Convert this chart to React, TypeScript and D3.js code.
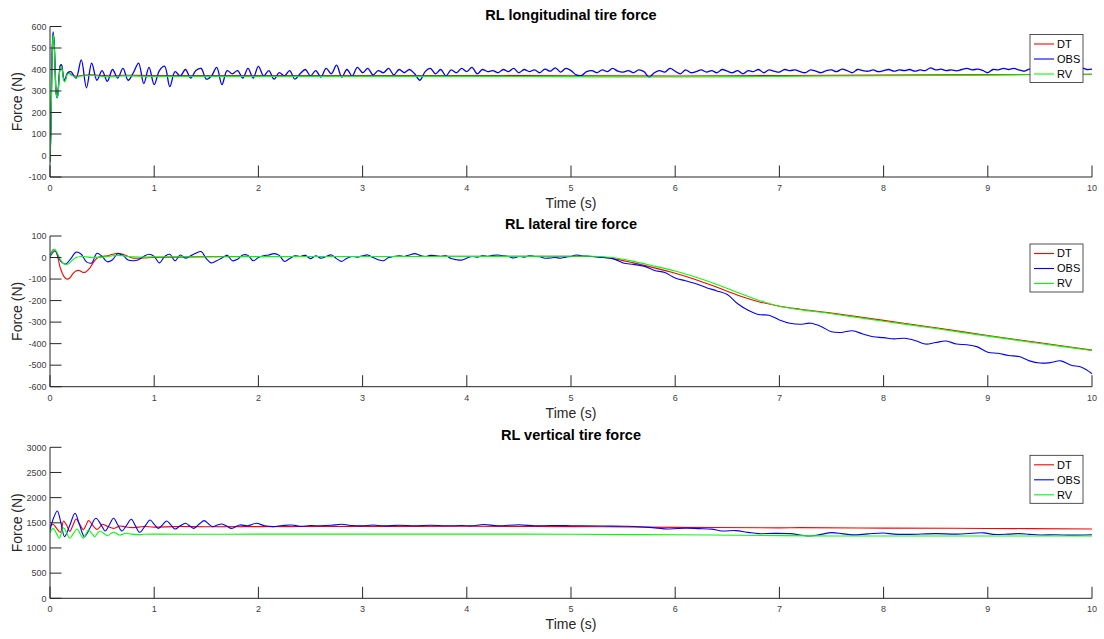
import React from "react";
import * as d3 from "d3";

// ---------- DATA ----------
const timeTicks = [0, 1, 2, 3, 4, 5, 6, 7, 8, 9, 10];
const longForceTicks = [-100, 0, 100, 200, 300, 400, 500, 600];
const latForceTicks = [-600, -500, -400, -300, -200, -100, 0, 100];
const vertForceTicks = [0, 500, 1000, 1500, 2000, 2500, 3000];
const seriesNames = ["DT", "OBS", "RV"];
const panelTitles = ["RL longitudinal tire force", "RL lateral tire force", "RL vertical tire force"];

// Longitudinal
const longDT: [number, number][] = [
  [0, -30], [0.01, 150], [0.02, 450], [0.03, 570], [0.04, 520], [0.05, 390], [0.06, 290], [0.07, 272],
  [0.08, 310], [0.09, 380], [0.1, 415], [0.11, 420], [0.12, 395], [0.13, 360], [0.14, 345], [0.15, 355],
  [0.16, 375], [0.18, 385], [0.2, 378], [0.25, 368], [0.3, 372], [0.4, 375], [0.5, 372], [0.6, 370],
  [0.7, 373], [1, 372], [2, 372], [3, 372], [4, 372], [5, 371], [6, 370], [7, 372], [8, 374], [9, 376], [10, 378],
];
const longRV: [number, number][] = [
  [0, -30], [0.01, 140], [0.02, 440], [0.03, 565], [0.04, 515], [0.05, 385], [0.06, 285], [0.07, 270],
  [0.08, 305], [0.09, 375], [0.1, 410], [0.11, 415], [0.12, 390], [0.13, 355], [0.14, 342], [0.15, 352],
  [0.16, 372], [0.18, 382], [0.2, 375], [0.25, 365], [0.3, 370], [0.4, 372], [0.5, 368], [0.6, 367],
  [0.7, 370], [1, 368], [2, 368], [3, 368], [4, 368], [5, 367], [5.5, 365], [6, 365], [7, 368], [8, 371],
  [9, 374], [10, 378],
];
const longObsStart: [number, number][] = [
  [0, -30], [0.01, 160], [0.02, 470], [0.03, 575], [0.04, 525], [0.05, 390], [0.06, 285], [0.07, 268],
  [0.08, 315], [0.09, 385], [0.1, 420], [0.11, 422], [0.12, 395], [0.13, 360], [0.14, 348], [0.15, 360],
  [0.17, 385],
];
// OBS from 0.2 s onward, every 0.05 s
const longObsSteady = [
  390, 360, 445, 315, 430, 350, 395, 345, 400, 360, 405, 350, 385, 430, 335, 410, 330, 395, 415, 320,
  390, 370, 400, 360, 395, 405, 355, 370, 410, 330, 395, 380, 395, 360, 405, 360, 415, 370, 395, 355,
  385, 370, 395, 355, 380, 400, 370, 395, 365, 405, 380, 420, 365, 400, 370, 410, 385, 405, 375, 395,
  385, 405, 375, 400, 385, 400, 380, 350, 390, 405, 380, 400, 370, 398, 385, 405, 390, 410, 380, 400,
  390, 395, 385, 400, 390, 405, 385, 400, 390, 398, 385, 402, 392, 408, 388, 405, 395, 375, 372, 390,
  395, 385, 398, 390, 405, 392, 388, 395, 385, 398, 390, 365, 385, 395, 388, 405, 392, 380, 398, 385,
  390, 398, 388, 395, 385, 400, 392, 385, 395, 380, 395, 390, 400, 385, 398, 392, 388, 400, 395, 398,
  390, 385, 398, 392, 385, 395, 398, 390, 402, 395, 385, 400, 395, 392, 398, 390, 395, 400, 392, 398,
  395, 400, 392, 398, 395, 408, 398, 402, 395, 398, 394, 400, 405, 398, 402, 396, 385, 400, 398, 405,
  400, 405, 398, 392, 402, 398, 405, 400, 408, 400, 405, 398, 410, 402, 408, 400, 402,
];

// Lateral
const latDT: [number, number][] = [
  [0, 5], [0.02, 30], [0.04, 38], [0.06, 25], [0.08, -10], [0.1, -50], [0.13, -85], [0.16, -100],
  [0.19, -95], [0.22, -75], [0.25, -62], [0.28, -60], [0.31, -68], [0.34, -68], [0.38, -50], [0.42, -20],
  [0.46, 0], [0.5, 5], [0.55, 8], [0.6, 15], [0.65, 20], [0.7, 15], [0.75, 5], [0.8, -3], [0.9, -2],
  [1, 0], [1.2, 2], [1.5, 4], [2, 5], [2.5, 5], [3, 5], [3.5, 5], [4, 6], [4.5, 6], [5, 6], [5.2, 5],
  [5.4, -5], [5.6, -25], [5.8, -48], [6, -73], [6.2, -103], [6.4, -138], [6.6, -175], [6.8, -205],
  [7, -226], [7.2, -240], [7.5, -258], [8, -292], [8.5, -326], [9, -362], [9.5, -396], [10, -430],
];
const latRV: [number, number][] = [
  [0, 5], [0.02, 30], [0.04, 38], [0.06, 30], [0.08, 10], [0.1, -10], [0.13, -28], [0.16, -32],
  [0.19, -25], [0.22, -10], [0.25, 0], [0.3, 5], [0.35, 3], [0.4, 0], [0.5, 2], [0.6, 8], [0.65, 10],
  [0.7, 8], [0.8, 3], [1, 3], [2, 4], [3, 5], [4, 5], [5, 6], [5.2, 6], [5.4, 0], [5.6, -18], [5.8, -40],
  [6, -63], [6.2, -92], [6.4, -125], [6.6, -162], [6.8, -198], [7, -226], [7.2, -242], [7.5, -261],
  [8, -296], [8.5, -330], [9, -365], [9.5, -399], [10, -432],
];
// OBS from 0 to 5 s, every 0.05 s
const latObsStart = [
  5, 30, -15, -30, -5, 25, 15, -20, -25, 20, 5, -20, -10, 18, 10, -12, -15, -10, 5, 15,
  5, -25, 5, 15, -15, 12, -3, 8, 20, 28, -5, -25, -15, -2, 10, -15, -8, 12, 10, -15,
  0, 8, 12, 18, 10, -18, -5, 8, 5, 10, -5, 8, -3, 5, 12, -5, -18, -3, 5, 2,
  8, 12, 0, -10, -15, 0, 5, 8, 5, 12, 18, 10, 5, 10, 8, 5, 8, -5, -10, -12,
  -3, 5, 2, 8, 5, 10, 12, 8, 5, -2, 5, 2, 8, 5, 4, -3, -2, 0, -3, 2, 5,
];
const latObsEnd: [number, number][] = [
  [5.05, 12], [5.1, 8], [5.2, 5], [5.3, 0], [5.4, -5], [5.5, -25], [5.6, -32], [5.7, -40], [5.8, -60],
  [5.9, -70], [6, -95], [6.1, -108], [6.2, -122], [6.3, -140], [6.4, -155], [6.5, -172], [6.6, -215],
  [6.7, -245], [6.8, -265], [6.9, -268], [7, -290], [7.1, -305], [7.2, -310], [7.3, -305], [7.4, -320],
  [7.5, -345], [7.6, -348], [7.7, -340], [7.8, -355], [7.9, -368], [8, -372], [8.1, -378], [8.2, -375],
  [8.3, -385], [8.4, -402], [8.5, -395], [8.6, -388], [8.7, -402], [8.8, -405], [8.9, -415], [9, -440],
  [9.1, -445], [9.2, -455], [9.3, -460], [9.4, -480], [9.5, -490], [9.6, -488], [9.7, -480], [9.8, -500],
  [9.9, -510], [10, -540],
];

// Vertical
const vertDT: [number, number][] = [
  [0, 1437], [0.03, 1470], [0.06, 1400], [0.1, 1311], [0.13, 1536], [0.16, 1450], [0.19, 1330],
  [0.22, 1450], [0.25, 1576], [0.285, 1470], [0.32, 1364], [0.345, 1450], [0.37, 1543], [0.41, 1450],
  [0.45, 1370], [0.48, 1420], [0.5, 1470], [0.55, 1430], [0.61, 1390], [0.64, 1410], [0.67, 1437],
  [0.72, 1420], [0.8, 1405], [0.9, 1425], [1, 1415], [1.2, 1425], [1.5, 1422], [2, 1425], [3, 1428],
  [4, 1430], [5, 1425], [6, 1410], [7, 1400], [7.2, 1405], [8, 1395], [9, 1388], [10, 1378],
];
const vertRV: [number, number][] = [
  [0, 1300], [0.03, 1390], [0.06, 1300], [0.09, 1192], [0.11, 1300], [0.13, 1403], [0.16, 1300],
  [0.19, 1192], [0.225, 1290], [0.26, 1376], [0.29, 1280], [0.32, 1195], [0.345, 1280], [0.37, 1357],
  [0.4, 1290], [0.43, 1225], [0.455, 1290], [0.48, 1337], [0.515, 1290], [0.55, 1245], [0.58, 1280],
  [0.61, 1311], [0.64, 1285], [0.67, 1258], [0.7, 1275], [0.73, 1291], [0.78, 1275], [0.85, 1265],
  [0.9, 1272], [1, 1275], [1.5, 1272], [2, 1275], [3, 1275], [4, 1275], [5, 1272], [6, 1262],
  [7, 1245], [7.5, 1238], [8, 1238], [9, 1238], [10, 1238],
];
const vertObs: [number, number][] = [
  [0, 1357], [0.035, 1600], [0.07, 1735], [0.105, 1500], [0.14, 1225], [0.19, 1450], [0.24, 1689],
  [0.285, 1450], [0.33, 1225], [0.385, 1400], [0.44, 1589], [0.485, 1480], [0.53, 1337], [0.57, 1460],
  [0.61, 1589], [0.65, 1460], [0.69, 1337], [0.735, 1450], [0.78, 1570], [0.82, 1440], [0.86, 1311],
  [0.91, 1430], [0.96, 1556], [1, 1470], [1.04, 1390], [1.08, 1460], [1.12, 1536], [1.16, 1460],
  [1.2, 1376], [1.25, 1440], [1.3, 1490], [1.34, 1440], [1.38, 1390], [1.43, 1470], [1.48, 1543],
  [1.52, 1480], [1.56, 1424], [1.6, 1450], [1.65, 1477], [1.7, 1430], [1.74, 1390], [1.78, 1420],
  [1.82, 1457], [1.9, 1440], [1.98, 1490], [2.06, 1440], [2.14, 1424], [2.23, 1445], [2.32, 1457],
  [2.4, 1430], [2.5, 1445], [2.6, 1440], [2.7, 1450], [2.8, 1470], [2.9, 1445], [3, 1440], [3.1, 1455],
  [3.2, 1440], [3.35, 1450], [3.5, 1440], [3.65, 1450], [3.8, 1440], [3.95, 1445], [4.05, 1440],
  [4.16, 1465], [4.3, 1440], [4.5, 1460], [4.65, 1440], [4.8, 1445], [4.95, 1443], [5.1, 1440],
  [5.3, 1435], [5.55, 1430], [5.75, 1410], [5.94, 1377], [6.1, 1395], [6.23, 1385], [6.35, 1375],
  [6.45, 1337], [6.58, 1345], [6.7, 1310], [6.8, 1284], [6.95, 1290], [7.1, 1284], [7.29, 1238],
  [7.4, 1270], [7.5, 1304], [7.6, 1285], [7.7, 1260], [7.85, 1280], [8, 1297], [8.1, 1275], [8.25, 1270],
  [8.5, 1284], [8.7, 1275], [8.96, 1300], [9.05, 1270], [9.2, 1275], [9.3, 1285], [9.4, 1270],
  [9.5, 1258], [9.65, 1262], [9.8, 1255], [10, 1264],
];

// ---------- BUILD SERIES ----------
const longObs: [number, number][] = [
  ...longObsStart,
  ...longObsSteady.map((v, i) => [0.2 + i * 0.05, v] as [number, number]),
];
const latObs: [number, number][] = [
  ...latObsStart.map((v, i) => [i * 0.05, v] as [number, number]),
  ...latObsEnd,
];

const COLORS: Record<string, string> = { DT: "#ff0000", OBS: "#0000ff", RV: "#00ff00" };
const FONT = "'Liberation Sans', Arial, Helvetica, sans-serif";
const AXIS = "#262626";
const X0 = 50;
const X1 = 1092;

interface PanelProps {
  id: number;
  top: number;
  bottom: number;
  yTicks: number[];
  title: string;
  data: Record<string, [number, number][]>;
  obsWidth: number;
}

function Panel({ id, top, bottom, yTicks, title, data, obsWidth }: PanelProps) {
  const x = d3.scaleLinear().domain([0, 10]).range([X0, X1]);
  const y = d3.scaleLinear().domain([yTicks[0], yTicks[yTicks.length - 1]]).range([bottom, top]);
  const line = d3
    .line<[number, number]>()
    .x((d) => x(d[0]))
    .y((d) => y(d[1]))
    .curve(d3.curveCatmullRom.alpha(0.5));
  const tickLen = 11.5;
  const legX = 1030;
  const legY = top + 8;
  const drawOrder = ["DT", "OBS", "RV"];
  return (
    <g>
      <defs>
        <clipPath id={`clip${id}`}>
          <rect x={X0} y={top - 1} width={X1 - X0 + 1} height={bottom - top + 2} />
        </clipPath>
      </defs>
      <g clipPath={`url(#clip${id})`}>
        {drawOrder.map((name) => (
          <path
            key={name}
            d={line(data[name]) || ""}
            fill="none"
            stroke={COLORS[name]}
            strokeWidth={name === "OBS" ? obsWidth : 1.1}
            strokeLinejoin="round"
          />
        ))}
      </g>
      {/* axes */}
      <line x1={X0} x2={X1} y1={bottom} y2={bottom} stroke={AXIS} strokeWidth={1} />
      <line x1={X0} x2={X0} y1={top} y2={bottom} stroke={AXIS} strokeWidth={1} />
      {timeTicks.map((t) => (
        <g key={`xt${t}`}>
          <line x1={x(t)} x2={x(t)} y1={bottom} y2={bottom - tickLen} stroke={AXIS} strokeWidth={1} />
          <text
            x={x(t)}
            y={bottom + 14}
            textAnchor="middle"
            fontSize={9}
            fill="#404040"
            fontFamily={FONT}
          >
            {t}
          </text>
        </g>
      ))}
      {yTicks.map((v) => (
        <g key={`yt${v}`}>
          <line x1={X0} x2={X0 + tickLen} y1={y(v)} y2={y(v)} stroke={AXIS} strokeWidth={1} />
          <text
            x={X0 - 3.5}
            y={y(v) + 3.2}
            textAnchor="end"
            fontSize={9}
            fill="#404040"
            fontFamily={FONT}
          >
            {v}
          </text>
        </g>
      ))}
      <text
        x={(X0 + X1) / 2}
        y={bottom + 31}
        textAnchor="middle"
        fontSize={14}
        fill={AXIS}
        fontFamily={FONT}
      >
        Time (s)
      </text>
      <text
        transform={`translate(${22},${(top + bottom) / 2}) rotate(-90)`}
        textAnchor="middle"
        fontSize={14}
        fill={AXIS}
        fontFamily={FONT}
      >
        Force (N)
      </text>
      <text
        x={(X0 + X1) / 2}
        y={top - 7}
        textAnchor="middle"
        fontSize={14.5}
        fontWeight="bold"
        fill="#000"
        fontFamily={FONT}
      >
        {title}
      </text>
      {/* legend */}
      <rect x={legX} y={legY} width={53} height={48} fill="#fff" stroke={AXIS} strokeWidth={0.8} />
      {seriesNames.map((name, i) => (
        <g key={`leg${name}`}>
          <line
            x1={legX + 4}
            x2={legX + 24}
            y1={legY + 9.5 + i * 15}
            y2={legY + 9.5 + i * 15}
            stroke={COLORS[name]}
            strokeWidth={1.1}
          />
          <text
            x={legX + 27}
            y={legY + 13.3 + i * 15}
            fontSize={11}
            fill="#000"
            fontFamily={FONT}
          >
            {name}
          </text>
        </g>
      ))}
    </g>
  );
}

export default function App() {
  return (
    <svg
      width={1104}
      height={639}
      style={{ position: "absolute", left: 0, top: 0, background: "#fff" }}
    >
      <rect x={0} y={0} width={1104} height={639} fill="#fff" />
      <Panel
        id={1}
        top={26.5}
        bottom={177}
        yTicks={longForceTicks}
        title={panelTitles[0]}
        data={{ DT: longDT, OBS: longObs, RV: longRV }}
        obsWidth={1.3}
      />
      <Panel
        id={2}
        top={236}
        bottom={386.7}
        yTicks={latForceTicks}
        title={panelTitles[1]}
        data={{ DT: latDT, OBS: latObs, RV: latRV }}
        obsWidth={1.1}
      />
      <Panel
        id={3}
        top={447.3}
        bottom={598.3}
        yTicks={vertForceTicks}
        title={panelTitles[2]}
        data={{ DT: vertDT, OBS: vertObs, RV: vertRV }}
        obsWidth={1.1}
      />
    </svg>
  );
}
